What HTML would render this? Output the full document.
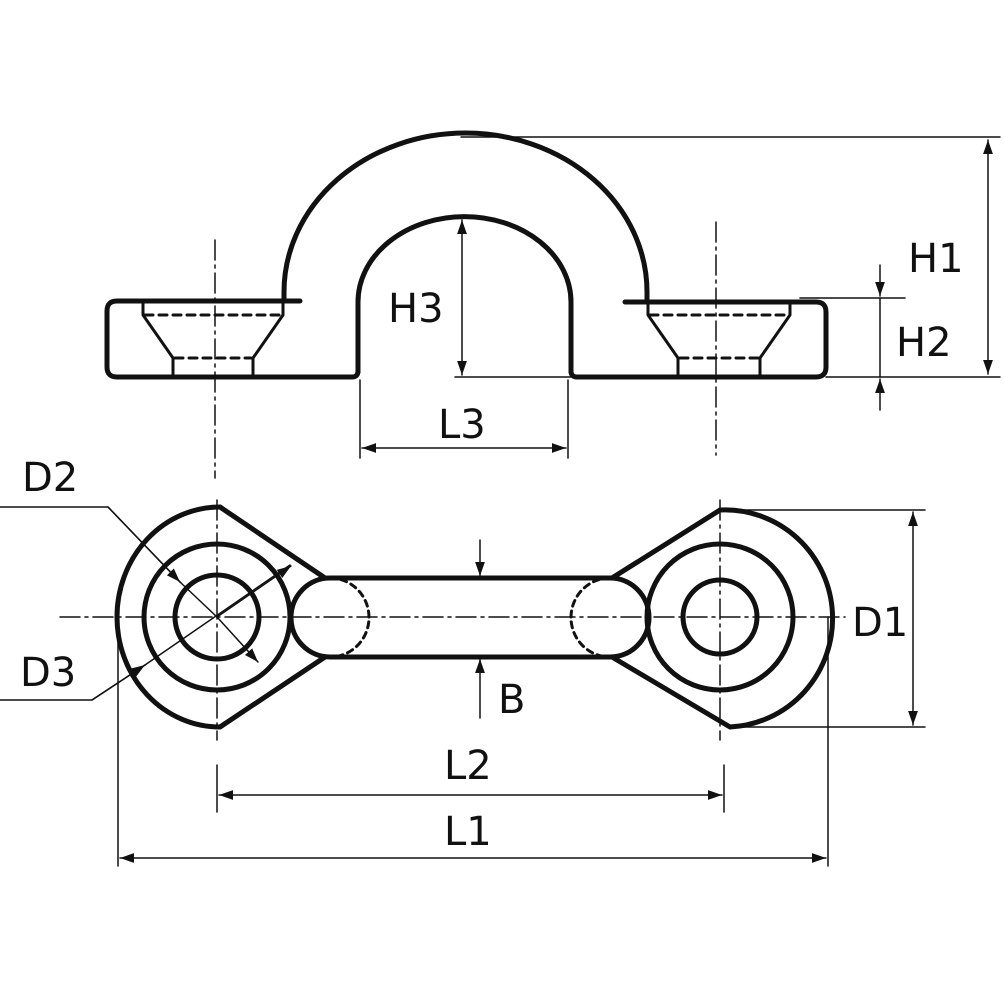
<!DOCTYPE html>
<html><head><style>body{margin:0;background:#fff}svg{display:block}text{font-family:"DejaVu Sans","Liberation Sans",sans-serif;font-size:40px;fill:#111}</style></head>
<body>
<svg width="1005" height="1005" viewBox="0 0 1005 1005" xmlns="http://www.w3.org/2000/svg">
<defs>
<marker id="a" viewBox="0 0 10 10" refX="10" refY="5" markerWidth="14" markerHeight="14" markerUnits="userSpaceOnUse" orient="auto-start-reverse"><path d="M0,1.5 L10,5 L0,8.5 Z" fill="#111"/></marker>
</defs>
<g fill="none" stroke="#111" stroke-linecap="round" stroke-linejoin="round">
<!-- TOP VIEW -->
<g stroke-width="5">
<path d="M284,300 L284,292 A177,155 0 0 1 647,292 L647,300"/>
<path d="M358,372 L358,302 A106,85 0 0 1 571,302 L571,372"/>
<path d="M300,301 L117,301 Q107,301 107,311 L107,367 Q107,377 117,377 L352,377 Q358,377 358,371"/>
<path d="M625,302 L816,302 Q826,302 826,312 L826,367 Q826,377 816,377 L577,377 Q571,377 571,371"/>
</g>
<g stroke-width="3">
<path d="M143,301 L143,315 L173,358 L173,377 M283,301 L283,315 L253,358 L253,377"/>
<path d="M648,302 L648,315 L678,358 L678,377 M790,302 L790,315 L760,358 L760,377"/>
<path d="M145,315 L281,315 M175,358 L251,358 M650,315 L788,315 M680,358 L758,358" stroke-dasharray="8,6"/>
</g>
<!-- BOTTOM VIEW -->
<g stroke-width="5">
<path d="M220,507 A103,110 0 0 0 220,727 L325,657"/>
<path d="M220,507 L325,578"/>
<path d="M720,510 A107,108 0 0 1 730,727 L612,657"/>
<path d="M720,510 L612,578"/>
<circle cx="217" cy="617" r="73"/>
<circle cx="217" cy="617" r="42"/>
<circle cx="720" cy="617" r="73"/>
<circle cx="720" cy="617" r="37"/>
<path d="M330,578 L610,578 A39,39.5 0 0 1 610,657 L330,657 A39,39.5 0 0 1 330,578"/>
</g>
<path d="M330,578 A39,39.5 0 0 1 330,657 M610,578 A39,39.5 0 0 0 610,657" stroke-width="3" stroke-dasharray="6,5"/>
<!-- centerlines -->
<g stroke-width="1.5" stroke-dasharray="20,5,3,5">
<path d="M215,240 L215,478 M716,222 L716,455 M217,500 L217,740 M720,500 L720,740 M60,617 L845,617"/>
</g>
<!-- dimensions -->
<g stroke-width="1.5">
<path d="M461,137 L1000,137 M826,377 L1000,377 M800,298 L905,298"/>
<path d="M988,140 L988,374" marker-start="url(#a)" marker-end="url(#a)"/>
<path d="M880,265 L880,296" marker-end="url(#a)"/>
<path d="M880,410 L880,379" marker-end="url(#a)"/>
<path d="M880,298 L880,377"/>
<path d="M462,220 L462,375" marker-start="url(#a)" marker-end="url(#a)"/>
<path d="M455,377 L571,377"/>
<path d="M360,380 L360,458 M568,380 L568,458"/>
<path d="M362,448 L566,448" marker-start="url(#a)" marker-end="url(#a)"/>
<path d="M720,510 L925,510 M730,727 L925,727"/>
<path d="M913,512 L913,725" marker-start="url(#a)" marker-end="url(#a)"/>
<path d="M480,540 L480,576" marker-end="url(#a)"/>
<path d="M480,718 L480,659" marker-end="url(#a)"/>
<path d="M217,765 L217,812 M724,765 L724,812 M118,617 L118,866 M828,617 L828,866"/>
<path d="M219,795 L722,795" marker-start="url(#a)" marker-end="url(#a)"/>
<path d="M120,858 L826,858" marker-start="url(#a)" marker-end="url(#a)"/>
<path d="M0,507 L108,507 L180,582"/>
<path d="M180,582 L180,582" />
<path d="M108,507 L180,582" marker-end="url(#a)"/>
<path d="M217,617 L258,662" marker-end="url(#a)"/>
<path d="M0,700 L92,700 L145,665" />
<path d="M92,700 L145,665" marker-end="url(#a)"/>
<path d="M145,665 L290,565"/>
<path d="M217,617 L291,566" marker-end="url(#a)"/>
<path d="M180,582 L217,617"/>
</g>
</g>
<text x="908" y="272">H1</text>
<text x="896" y="356">H2</text>
<text x="388" y="322">H3</text>
<text x="438" y="438">L3</text>
<text x="22" y="491">D2</text>
<text x="20" y="686">D3</text>
<text x="852" y="636">D1</text>
<text x="498" y="713">B</text>
<text x="444" y="779">L2</text>
<text x="444" y="845">L1</text>
</svg>
</body></html>
